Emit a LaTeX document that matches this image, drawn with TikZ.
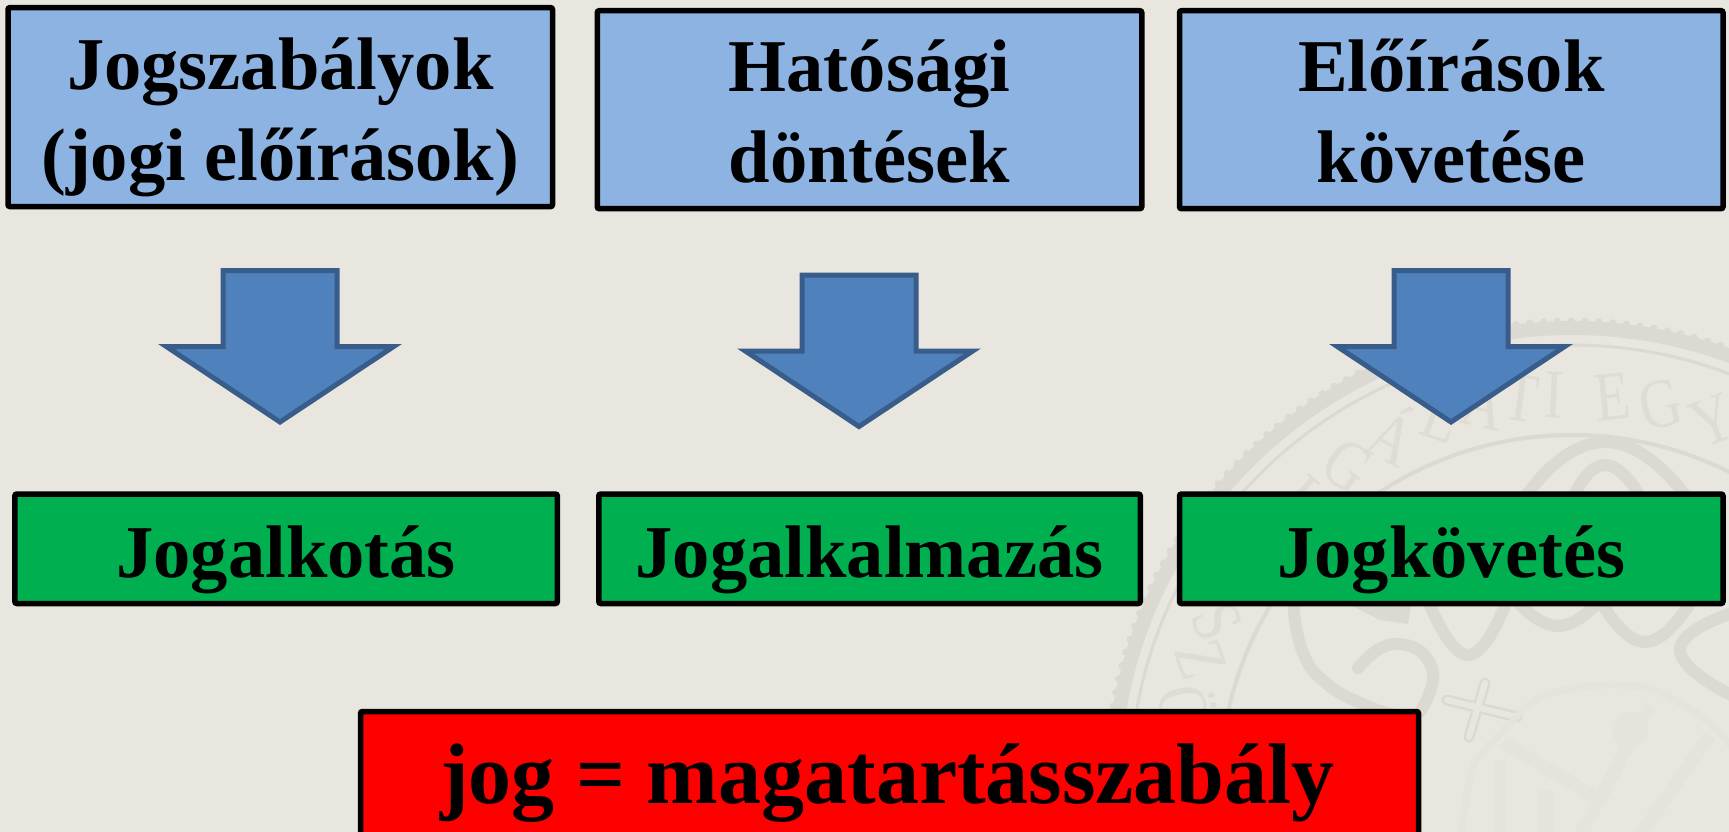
\documentclass[tikz,border=0pt]{standalone}
\usepackage{fontspec}
\usetikzlibrary{calc}
\setmainfont{Liberation Serif}
\definecolor{pagebg}{HTML}{E9E6DF}
\definecolor{seal}{HTML}{DBD9D1}
\definecolor{sealtext}{HTML}{DEDCD4}
\definecolor{sealfaint}{HTML}{E5E3DB}
\definecolor{bluebox}{HTML}{8DB3E2}
\definecolor{greenbox}{HTML}{00B050}
\definecolor{redbox}{HTML}{FF0000}
\definecolor{arrowfill}{HTML}{4F81BD}
\definecolor{arrowline}{HTML}{385D8A}
\newcommand{\tophi}{\rule{0pt}{75.2pt}}
\newcommand{\botlo}{\rule[-20pt]{0pt}{20pt}}
\newcommand{\blockarrow}[3]{%
  \coordinate (#1) at (#2,#3);
  \draw[blockarrow] (#1) ++(-57,0) -- ++(114,0) -- ++(0,76) -- ++(56.7,0)
    -- ++(-113.7,75.5) -- ++(-113.7,-75.5) -- ++(56.7,0) -- cycle;}
\tikzset{
  x=1pt,y=-1pt,
  box/.style={draw=black,line width=5.5pt,rounded corners=2pt,inner sep=0pt,outer sep=0pt,align=center,
    font=\fontsize{74.5}{90.7}\selectfont\bfseries,text=black},
  topbox/.style={box,fill=bluebox,minimum width=544.5pt,minimum height=199pt},
  midbox/.style={box,fill=greenbox,minimum width=542.5pt,minimum height=109.5pt,text height=77.7pt,text depth=20pt},
  redbar/.style={box,fill=redbox,font=\fontsize{86}{100}\selectfont\bfseries,minimum width=1058pt,minimum height=123.5pt,text height=84.5pt,text depth=25pt},
  blockarrow/.style={fill=arrowfill,draw=arrowline,line width=5pt,miter limit=10},
  sealstroke/.style={draw=seal,line width=12pt,line cap=round},
  sealletter/.style={text=sealtext,font=\fontsize{70}{74}\selectfont,inner sep=0pt}
}
\begin{document}
\begin{tikzpicture}
\useasboundingbox (0,0) rectangle (1729,832);
\fill[pagebg] (0,0) rectangle (1729,832);
% watermark seal
\begin{scope}
\clip (0,0) rectangle (1729,832);
\coordinate (sealc) at (1572,787);
\draw[seal,line width=14pt] (sealc) circle[radius=459pt];
\foreach \a in {0,1.7,...,360}{\fill[seal] (sealc) ++({\a}:466pt) circle[radius=3.6pt];}
\draw[seal,line width=3pt] (sealc) circle[radius=442pt];
\draw[seal,line width=4pt] (sealc) circle[radius=352pt];
\foreach \ang/\ltr/\rr in {-78/Ö/392,-71/Z/392,-65/S/392,-43/L/392,-35/G/392,-26.6/Á/396,-19.5/L/392,-13/A/392,-7.5/T/392,-2.6/I/392,6/E/392,13/G/392,21/Y/392}{
  \node[sealletter,rotate=\ang,xscale=.82] at ($(sealc)+({sin(\ang)*\rr},{-cos(\ang)*\rr})$) {\ltr};
}
% swirls
\draw[sealstroke] plot[smooth,tension=1] coordinates {(1520,505) (1605,442) (1692,505)};
\draw[sealstroke] plot[smooth,tension=1] coordinates {(1572,500) (1605,465) (1642,500)};
\draw[sealstroke] plot[smooth,tension=.8] coordinates {(1293,600) (1302,650) (1326,683) (1365,705) (1395,715)};
\draw[sealstroke] plot[smooth,tension=.9] coordinates {(1358,668) (1395,644) (1432,668) (1420,712)};
\draw[sealstroke] plot[smooth,tension=.9] coordinates {(1428,600) (1468,655) (1507,600)};
\draw[sealstroke] plot[smooth,tension=.9] coordinates {(1516,600) (1558,626) (1600,600)};
\draw[sealstroke] plot[smooth,tension=.9] coordinates {(1600,600) (1645,642) (1692,600)};
\draw[sealstroke] plot[smooth,tension=.9] coordinates {(1735,612) (1680,650) (1735,697)};
\fill[seal] (1340,600) -- (1412,600) -- (1408,624) -- (1380,620) -- cycle;
% cross
\foreach \w/\c in {11/seal,6/pagebg}{
  \draw[\c,line width=\w pt,line cap=round] (1485,683) -- (1469,737);
  \draw[\c,line width=\w pt,line cap=round] (1447,700) -- (1517,717);
}
% crown
\draw[sealfaint,line width=7pt] plot[smooth] coordinates {(1461,835) (1473,767) (1501,733) (1541,697) (1601,685) (1654,690) (1702,717) (1735,750)};
\draw[sealfaint,line width=13pt] (1503,742) -- (1600,800);
\draw[sealfaint,line width=11pt] (1500,760) -- (1500,835);
\draw[sealfaint,line width=13pt] (1650,705) -- (1580,835);
\draw[sealfaint,line width=13pt] (1710,735) -- (1640,835);
\draw[sealfaint,line width=15pt] (1545,790) -- (1545,835);
\fill[sealfaint] (1630,730) circle[radius=18pt];
\end{scope}
% top row
\node[topbox] (t1) at (280.25,107.1) {\tophi Jogszabályok\\(jogi előírások)\botlo};
\node[topbox,minimum height=198pt] (t2) at (869.5,109.7) {\tophi Hatósági\\döntések\botlo};
\node[topbox,minimum width=543.5pt,minimum height=198pt] (t3) at (1451.25,109.7) {\tophi Előírások\\követése\botlo};
% arrows
\blockarrow{a1}{280}{270.5}
\blockarrow{a2}{859}{275}
\blockarrow{a3}{1451}{270.5}
% middle row
\node[midbox] (m1) at (286.1,548.75) {Jogalkotás};
\node[midbox,minimum width=541.5pt] (m2) at (869.5,548.75) {Jogalkalmazás};
\node[midbox,minimum width=543.5pt] (m3) at (1451.25,548.75) {Jogkövetés};
% bottom bar
\node[redbar] (r) at (889.5,773.25) {\kern-4pt jog = magatartásszabály};
\end{tikzpicture}
\end{document}
